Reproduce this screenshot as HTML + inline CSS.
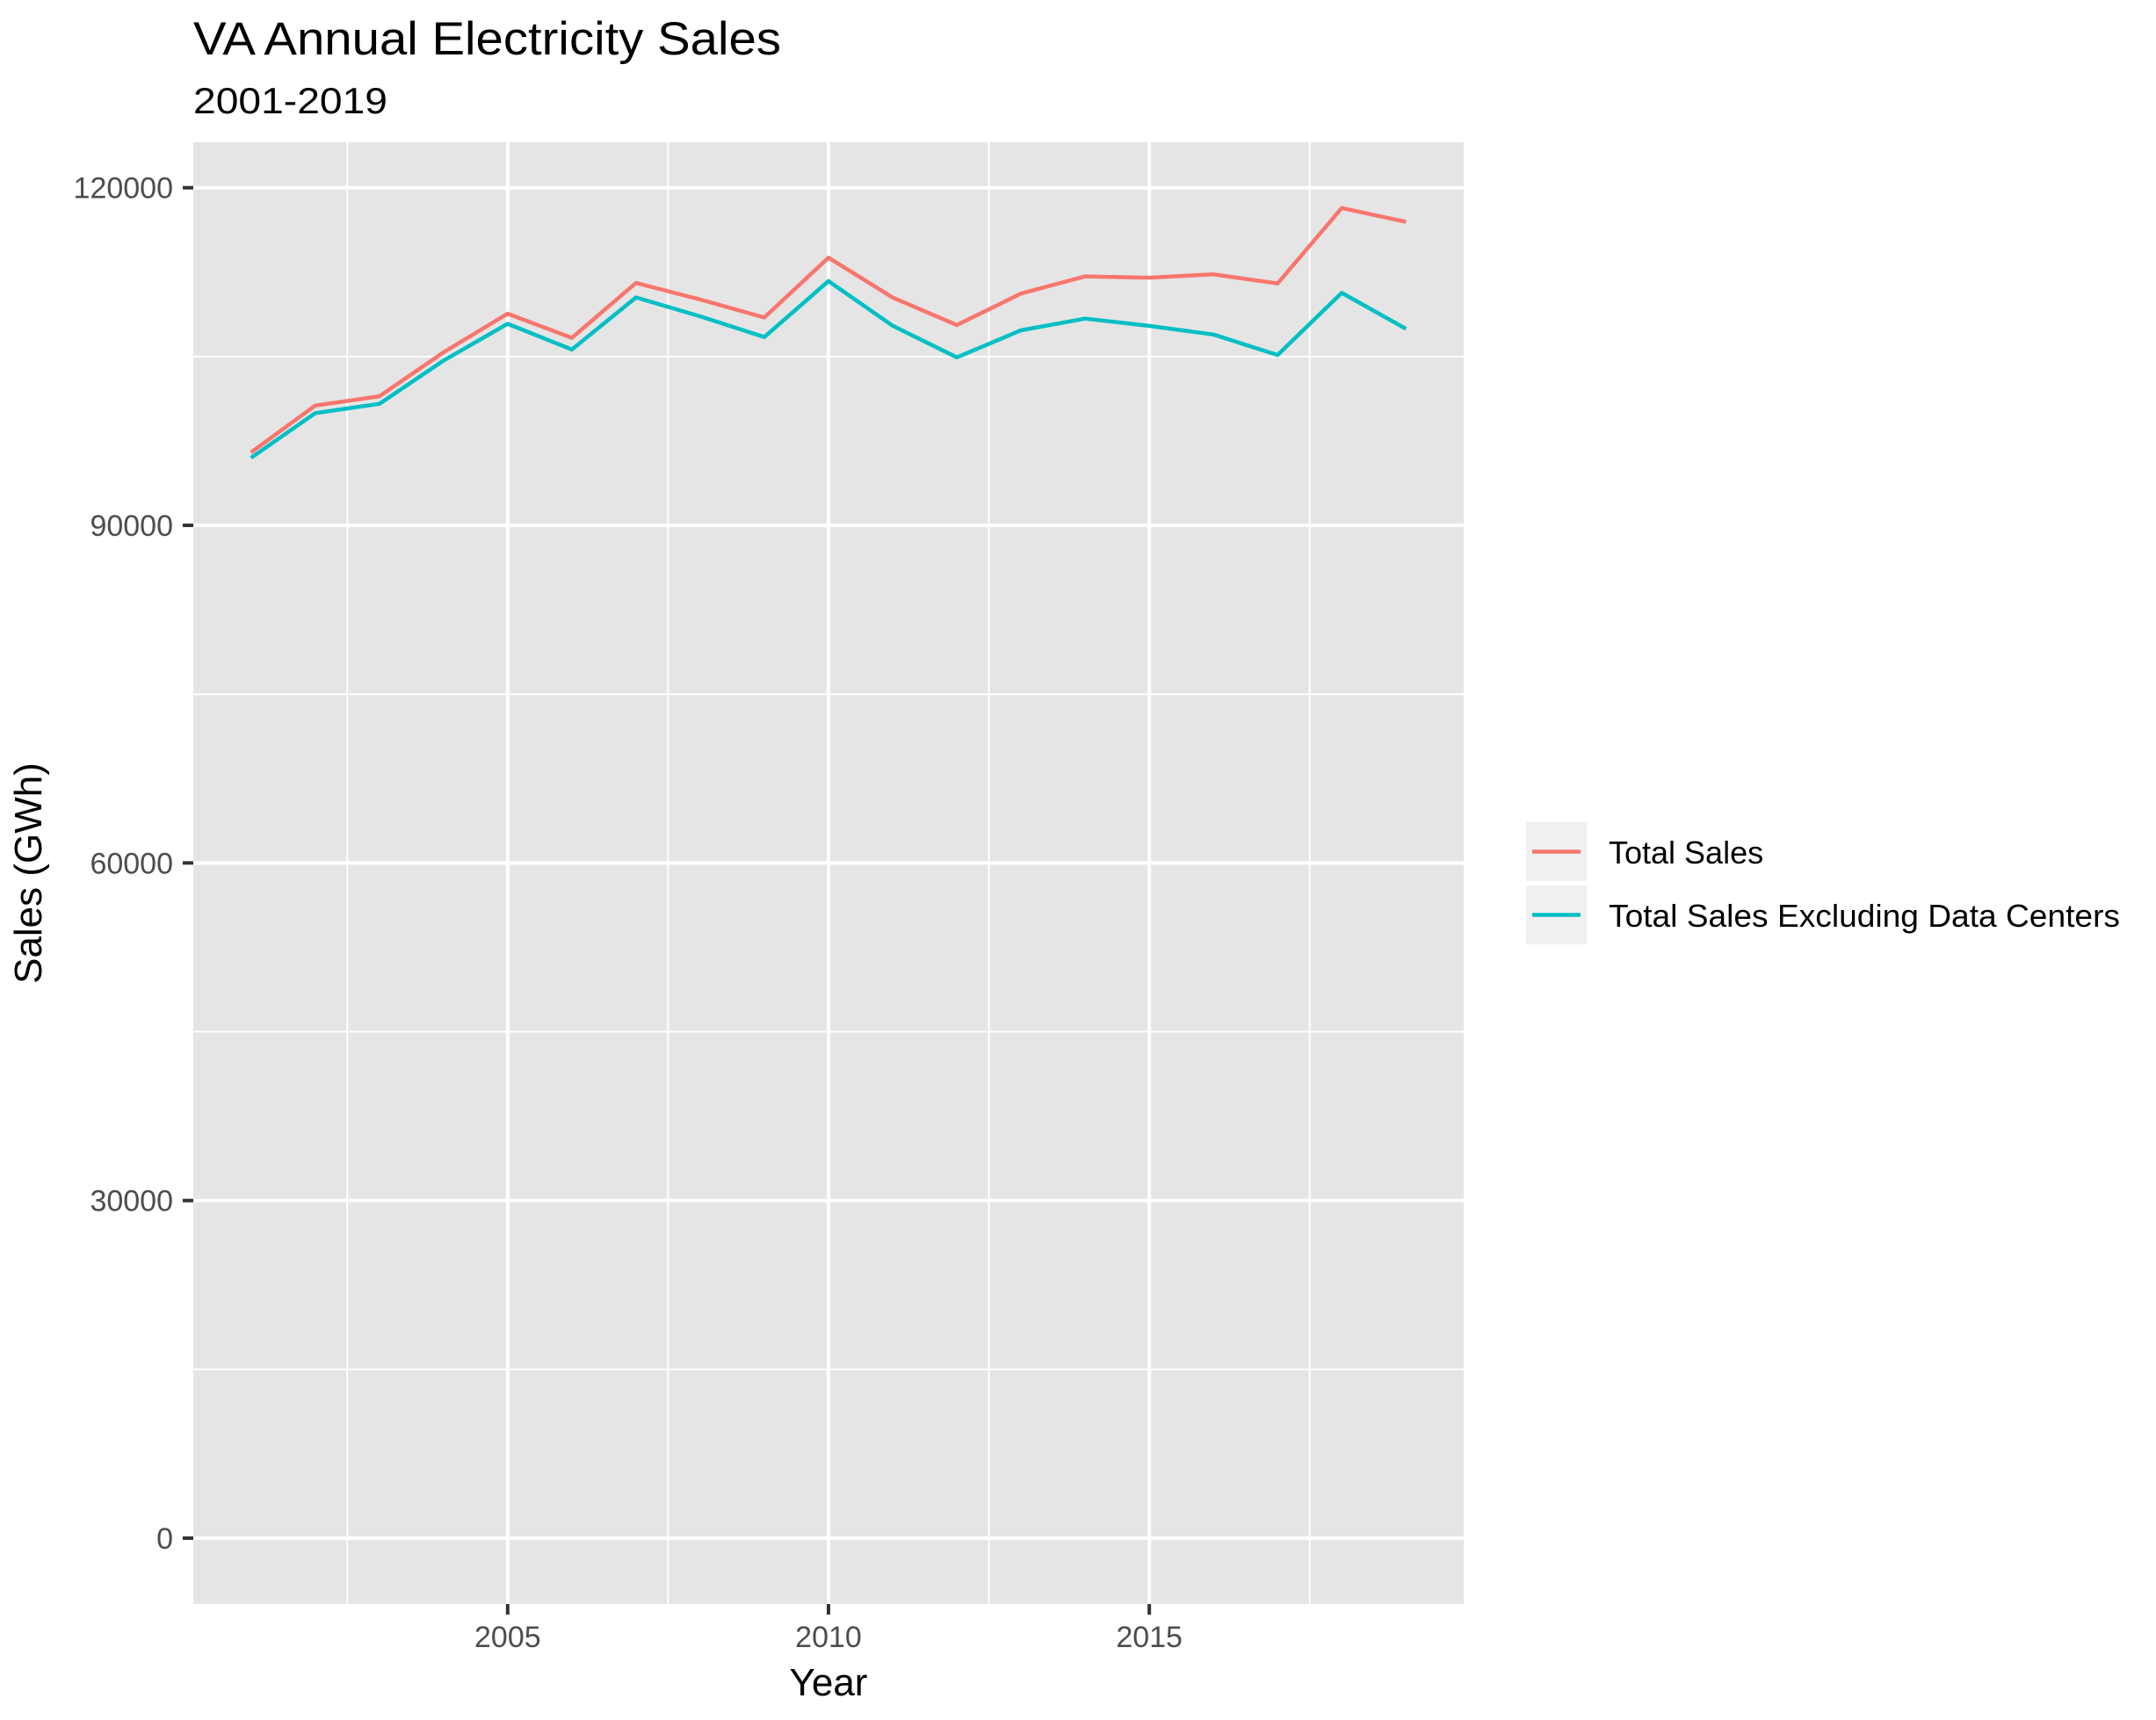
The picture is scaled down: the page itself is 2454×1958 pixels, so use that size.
<!DOCTYPE html>
<html><head><meta charset="utf-8"><style>
html,body{margin:0;padding:0;background:#fff;}
svg{display:block;font-family:"Liberation Sans",Arial,sans-serif;}
</style></head><body>
<svg id="chart" width="2454" height="1958" viewBox="0 0 2454 1958" xmlns="http://www.w3.org/2000/svg">
<rect x="0" y="0" width="2454" height="1958" fill="#fff"/>
<text x="220" y="62" font-size="53" textLength="669" lengthAdjust="spacingAndGlyphs" fill="#000">VA Annual Electricity Sales</text>
<text x="220" y="129" font-size="42" textLength="221" lengthAdjust="spacingAndGlyphs" fill="#000">2001-2019</text>
<rect x="220" y="162" width="1446" height="1664" fill="#E5E5E5"/>
<g id="grid"></g>
<g id="series"></g>
<g id="axes"></g>
<text x="943" y="1930" font-size="44" text-anchor="middle" fill="#000">Year</text>
<text transform="translate(47,994) rotate(-90)" font-size="44" text-anchor="middle" fill="#000">Sales (GWh)</text>
<g>
<rect x="1737" y="936" width="69" height="67" fill="#F0F0F0"/>
<line x1="1744" y1="969.5" x2="1799" y2="969.5" stroke="#F8766D" stroke-width="4.5"/>
<text x="1831" y="983" font-size="36" fill="#000">Total Sales</text>
<rect x="1737" y="1008" width="69" height="67" fill="#F0F0F0"/>
<line x1="1744" y1="1041.5" x2="1799" y2="1041.5" stroke="#00BFC4" stroke-width="4.5"/>
<text x="1831" y="1055" font-size="36" textLength="582" lengthAdjust="spacingAndGlyphs" fill="#000">Total Sales Excluding Data Centers</text>
</g>
</svg>
<script>
const years = [2001,2002,2003,2004,2005,2006,2007,2008,2009,2010,2011,2012,2013,2014,2015,2016,2017,2018,2019];
const totalSales = [96480,100640,101470,105370,108810,106660,111540,110070,108470,113790,110240,107800,110590,112120,112010,112300,111490,118200,116960];
const salesExclDataCenters = [96000,99970,100800,104640,107910,105620,110250,108570,106730,111700,107740,104930,107330,108370,107720,106960,105140,110660,107460];
const yTicks = [0,30000,60000,90000,120000];
const yTickLabels = ["0","30000","60000","90000","120000"];
const yMinor = [15000,45000,75000,105000];
const xTicks = [2005,2010,2015];
const xTickLabels = ["2005","2010","2015"];
const xMinor = [2002.5,2007.5,2012.5,2017.5];

const NS = "http://www.w3.org/2000/svg";
const PL = 220, PR = 1666, PT = 162, PB = 1826;
const X0 = 2000.1, X1 = 2019.9;
function xs(v){ return PL + (v - X0) / (X1 - X0) * (PR - PL); }
function ys(v){ return 1751 - v * (1751 - 213.7) / 120000; }
function mk(tag, attrs, parent){
  const e = document.createElementNS(NS, tag);
  for (const k in attrs) e.setAttribute(k, attrs[k]);
  parent.appendChild(e);
  return e;
}
const grid = document.getElementById('grid');
const axes = document.getElementById('axes');
const series = document.getElementById('series');

yMinor.forEach(v => {
  const l = mk('line', {x1:PL, x2:PR, y1:ys(v), y2:ys(v), stroke:'#fff', 'stroke-width':2}, grid);
  
  
});
xMinor.forEach(v => {
  const l = mk('line', {x1:xs(v), x2:xs(v), y1:PT, y2:PB, stroke:'#fff', 'stroke-width':2}, grid);
  
  
});
yTicks.forEach((v, i) => {
  const y = ys(v);
  const l = mk('line', {x1:PL, x2:PR, y1:y, y2:y, stroke:'#fff', 'stroke-width':4}, grid);
  
  
  const t = mk('line', {x1:208, x2:PL, y1:y, y2:y, stroke:'#333', 'stroke-width':4}, axes);
  
  
  const tx = mk('text', {x:197, y:y+12, 'font-size':34, 'text-anchor':'end', fill:'#4D4D4D'}, axes);
  tx.textContent = yTickLabels[i];
  
  
});
xTicks.forEach((v, i) => {
  const x = xs(v);
  const l = mk('line', {x1:x, x2:x, y1:PT, y2:PB, stroke:'#fff', 'stroke-width':4}, grid);
  
  
  const t = mk('line', {x1:x, x2:x, y1:PB, y2:PB+12, stroke:'#333', 'stroke-width':4}, axes);
  
  
  const tx = mk('text', {x:x, y:1875, 'font-size':34, 'text-anchor':'middle', fill:'#4D4D4D'}, axes);
  tx.textContent = xTickLabels[i];
  
  
});
function drawLine(vals, color, name){
  const pts = years.map((yr, i) => xs(yr).toFixed(1) + ',' + ys(vals[i]).toFixed(1)).join(' ');
  const p = mk('polyline', {points:pts, fill:'none', stroke:color, 'stroke-width':4.5, 'stroke-linejoin':'round'}, series);
  
  
}
drawLine(salesExclDataCenters, '#00BFC4', 'line-total-sales-excluding-data-centers');
drawLine(totalSales, '#F8766D', 'line-total-sales');
</script>
</body></html>
